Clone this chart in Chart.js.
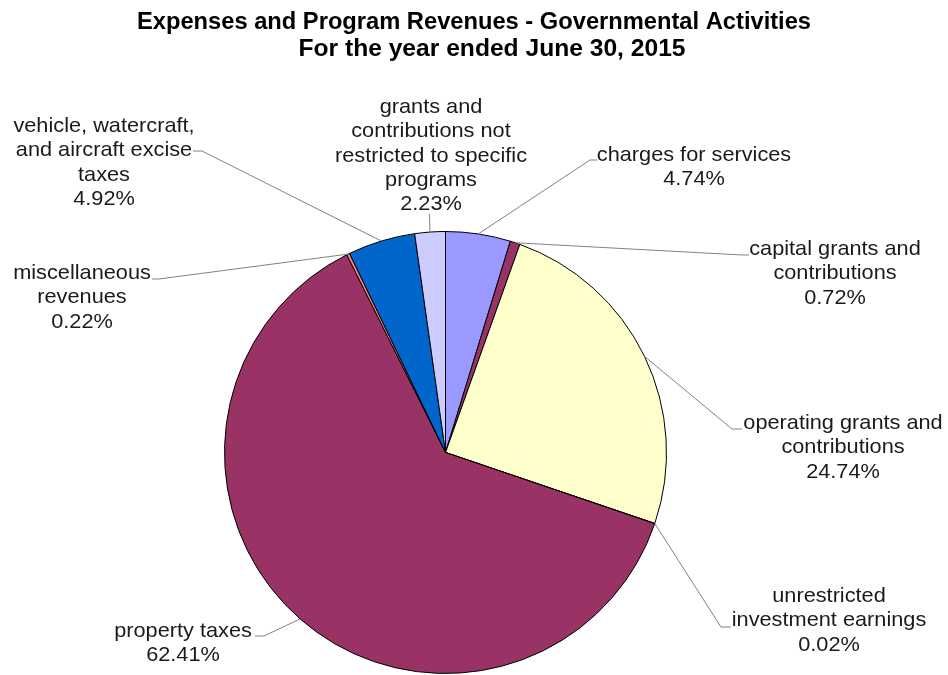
<!DOCTYPE html>
<html>
<head>
<meta charset="utf-8">
<title>Governmental Activities revenues</title>
<script src="https://cdn.jsdelivr.net/npm/chart.js@4.4.1/dist/chart.umd.min.js"></script>
<style>
  html, body { margin: 0; padding: 0; background: #fff; }
  canvas { display: block; }
</style>
</head>
<body>
<canvas id="chart" width="948" height="675"></canvas>
<script>
const titleLines = ['Expenses and Program Revenues - Governmental Activities', 'For the year ended June 30, 2015'];

// revenue sources, clockwise from 12 o'clock
const categories = [
  ['charges for services'],
  ['capital grants and', 'contributions'],
  ['operating grants and', 'contributions'],
  ['unrestricted', 'investment earnings'],
  ['property taxes'],
  ['miscellaneous', 'revenues'],
  ['vehicle, watercraft,', 'and aircraft excise', 'taxes'],
  ['grants and', 'contributions not', 'restricted to specific', 'programs']
];
const shares = [4.74, 0.72, 24.74, 0.02, 62.41, 0.22, 4.92, 2.23];
const colors = ['#9999FF', '#993366', '#FFFFCC', '#CCFFFF', '#993366', '#FF8080', '#0066CC', '#CCCCFF'];

// where each label sits, plus the bend and tail of its leader line
const labelSpots = [
  { x: 694, y: 161, bend: [590, 160], tail: [597, 160] },
  { x: 835, y: 255, bend: [742, 255], tail: [749, 255] },
  { x: 843, y: 429, bend: [732, 429], tail: [742, 429] },
  { x: 829, y: 602, bend: [721, 627], tail: [731, 627] },
  { x: 183, y: 637, bend: [264, 636], tail: [255, 636] },
  { x: 82, y: 279, bend: [159, 279], tail: [152, 279] },
  { x: 104, y: 132, bend: [202, 151], tail: [193, 151] },
  { x: 431, y: 113, bend: [429.5, 214], tail: [429.5, 214] }
];

const FONT = "'Liberation Sans', Arial, sans-serif";

function drawStretched(ctx, text, x, y, sx) {
  ctx.save();
  ctx.translate(x, y);
  ctx.scale(sx, 1);
  ctx.fillText(text, 0, 0);
  ctx.restore();
}

const titlePlugin = {
  id: 'titleText',
  afterDraw(chart) {
    const ctx = chart.ctx;
    ctx.save();
    ctx.fillStyle = '#000';
    ctx.textAlign = 'center';
    ctx.textBaseline = 'alphabetic';
    ctx.font = 'bold 23px ' + FONT;
    drawStretched(ctx, titleLines[0], 474, 29, 1.03);
    drawStretched(ctx, titleLines[1], 492, 56, 1.07);
    ctx.restore();
  }
};

const leaderLabels = {
  id: 'leaderLabels',
  afterDatasetsDraw(chart) {
    const ctx = chart.ctx;
    const arcs = chart.getDatasetMeta(0).data;
    ctx.save();
    arcs.forEach((arc, i) => {
      const p = arc.getProps(['x', 'y', 'startAngle', 'endAngle', 'outerRadius'], true);
      const mid = (p.startAngle + p.endAngle) / 2;
      const sx = p.x + Math.cos(mid) * p.outerRadius;
      const sy = p.y + Math.sin(mid) * p.outerRadius;
      const spot = labelSpots[i];

      ctx.strokeStyle = '#808080';
      ctx.lineWidth = 1;
      ctx.beginPath();
      ctx.moveTo(sx, sy);
      ctx.lineTo(spot.bend[0], spot.bend[1]);
      ctx.lineTo(spot.tail[0], spot.tail[1]);
      ctx.stroke();

      const lines = chart.data.labels[i].concat(shares[i].toFixed(2) + '%');
      ctx.fillStyle = '#1a1a1a';
      ctx.font = '21px ' + FONT;
      ctx.textAlign = 'center';
      ctx.textBaseline = 'alphabetic';
      lines.forEach((line, k) => drawStretched(ctx, line, spot.x, spot.y + k * 24.3, 1.035));
    });
    ctx.restore();
  }
};

const chart = new Chart(document.getElementById('chart'), {
  type: 'pie',
  data: {
    labels: categories,
    datasets: [{
      data: shares,
      backgroundColor: colors,
      borderColor: '#000',
      borderWidth: 1
    }]
  },
  options: {
    responsive: false,
    animation: false,
    layout: { padding: { left: 224, right: 281, top: 231, bottom: 1 } },
    plugins: {
      legend: { display: false },
      tooltip: { enabled: false }
    }
  },
  plugins: [titlePlugin, leaderLabels]
});
</script>
</body>
</html>
